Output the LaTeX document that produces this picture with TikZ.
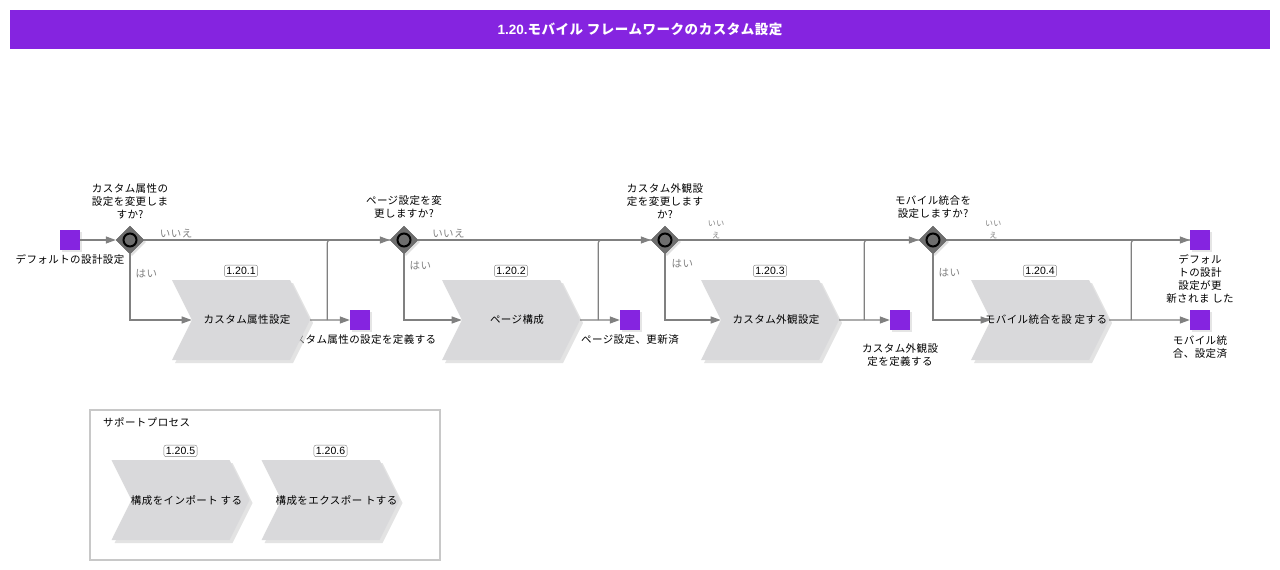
\documentclass[tikz,border=0pt]{standalone}
\usepackage{fontspec}
\setmainfont[LetterSpace=4]{Noto Sans CJK JP}
\newfontfamily\latin{Liberation Sans}
\definecolor{Violet}{HTML}{8524E0}
\definecolor{LightGray}{HTML}{D9D9DB}
\definecolor{DarkGray}{HTML}{6E6E6E}
\definecolor{LineGray}{HTML}{808080}
\definecolor{FrameGray}{HTML}{C8C8C8}
\usetikzlibrary{shadows,arrows,arrows.meta,shapes,positioning,calc,fit}
\def\aw{138pt}
\def\ac#1{\hspace*{12pt}\makebox[40pt]{#1}}

\begin{document}
\begin{tikzpicture}
[x=1pt,y=-1pt,
   title/.style={fill=Violet,text=white,font=\fontsize{13.5}{16}\selectfont\bfseries,minimum
   width=1260pt,minimum height=39pt,inner sep=0pt},
   event/.style={fill=Violet,minimum size=20pt,inner sep=0pt,drop shadow={shadow
   xshift=1.5pt,shadow yshift=-1.5pt,fill=black!20}},
   gate/.style={diamond,fill=DarkGray,draw=DarkGray!80!black,minimum size=28pt,inner sep=0pt,
   drop shadow={shadow xshift=2pt,shadow yshift=-2pt,fill=black!25},
   path picture={\draw[draw=black,line width=2pt,fill=DarkGray] (path picture bounding box.center) circle (6.5pt);}},
   activity/.style={signal,signal to=east,signal from=west,signal pointer angle=127,
   fill=LightGray,minimum width=\aw,minimum height=80pt,inner sep=0pt,
   font=\fontsize{10.5}{13}\selectfont,drop shadow={shadow xshift=3pt,shadow yshift=-3pt,fill=black!22}},
   tag/.style={draw=gray,fill=white,rounded corners=2pt,font=\latin\fontsize{10.5}{12}\selectfont,inner sep=2pt},
   lb/.style={font=\fontsize{10.5}{13}\selectfont,align=center,inner sep=1pt},
   sm/.style={font=\fontsize{8}{12}\selectfont,align=center,inner sep=0pt},
   flow/.style={LineGray,line width=1.2pt,-{Triangle[length=10pt,width=7pt]}},
   merge/.style={LineGray,line width=1.2pt,rounded corners=3pt},
   group/.style={draw=FrameGray,line width=2pt,minimum width=350pt,minimum height=150pt}]
\useasboundingbox (0,0) rectangle (1280,570);
\node[title] (head) at (640,29.5) {{\latin 1.20.}モバイル フレームワークのカスタム設定};

\node[event] (start) at (70,240) {};
\node[lb,below=3pt of start] (startlb) {デフォルトの設計設定};
\node[gate] (gw1) at (130,240) {};
\node[lb,above=6pt of gw1] (gw1lb) {カスタム属性の\\設定を変更しま\\すか?};
\node[event] (end1) at (360,320) {};
\node[lb,below=3pt of end1] (end1lb) {カスタム属性の設定を定義する};
\node[activity] (act1) at (241,320) {\ac{カスタム属性設定}};
\node[tag,above=3pt of act1] (tag1) {1.20.1};

\node[gate] (gw2) at (404,240) {};
\node[lb,above=6pt of gw2] (gw2lb) {ページ設定を変\\更しますか?};
\node[event] (end2) at (630,320) {};
\node[lb,below=3pt of end2] (end2lb) {ページ設定、更新済};
\node[activity] (act2) at (511,320) {\ac{ページ構成}};
\node[tag,above=3pt of act2] (tag2) {1.20.2};

\node[gate] (gw3) at (665,240) {};
\node[lb,above=6pt of gw3] (gw3lb) {カスタム外観設\\定を変更します\\か?};
\node[event] (end3) at (900,320) {};
\node[lb,below=12pt of end3] (end3lb) {カスタム外観設\\定を定義する};
\node[activity] (act3) at (770,320) {\ac{カスタム外観設定}};
\node[tag,above=3pt of act3] (tag3) {1.20.3};

\node[gate] (gw4) at (933,240) {};
\node[lb,above=6pt of gw4] (gw4lb) {モバイル統合を\\設定しますか?};
\node[event] (end4a) at (1200,240) {};
\node[lb,below=3pt of end4a] (end4alb) {デフォル\\トの設計\\設定が更\\新されま した};
\node[event] (end4b) at (1200,320) {};
\node[lb,below=4pt of end4b] (end4blb) {モバイル統\\合、設定済};
\node[activity] (act4) at (1040,320) {\ac{モバイル統合を設 定する}};
\node[tag,above=3pt of act4] (tag4) {1.20.4};

%% support processes
\node[group] (support) at (265,485) {};
\node[lb,anchor=north west] (supportlb) at ([shift={(13pt,-7pt)}]support.north west) {サポートプロセス};
\node[activity] (act5) at (180.5,500) {\ac{構成をインポート する}};
\node[tag,above=3pt of act5] (tag5) {1.20.5};
\node[activity] (act6) at (330.5,500) {\ac{構成をエクスポー トする}};
\node[tag,above=3pt of act6] (tag6) {1.20.6};

\draw[flow] (start) -- (gw1);
\draw[flow] (gw1) -- node[lb,pos=.13,above] {いいえ} (gw2);
\draw[flow] (gw1) |- node[lb,pos=.145,right=4pt] {はい} (act1);
\draw[flow] (act1) -- (end1);
\draw[merge] ([xshift=17pt]act1.east) |- (gw2);

\draw[flow] (gw2) -- node[lb,pos=.13,above] {いいえ} (gw3);
\draw[flow] (gw2) |- node[lb,pos=.09,right=4pt] {はい} (act2);
\draw[flow] (act2) -- (end2);
\draw[merge] ([xshift=18pt]act2.east) |- (gw3);

\draw[flow] (gw3) -- node[sm,pos=.154,yshift=10pt] {いい\\え} (gw4);
\draw[flow] (gw3) |- node[lb,pos=.075,right=5pt] {はい} (act3);
\draw[flow] (act3) -- (end3);
\draw[merge] ([xshift=25pt]act3.east) |- (gw4);

\draw[flow] (gw4) -- node[sm,pos=.19,yshift=10pt] {いい\\え} (end4a);
\draw[flow] (gw4) |- node[lb,pos=.14,right=4pt] {はい} (act4);
\draw[flow] (act4) -- (end4b);
\draw[merge] ([xshift=22pt]act4.east) |- (end4a);
\end{tikzpicture}
\end{document}
